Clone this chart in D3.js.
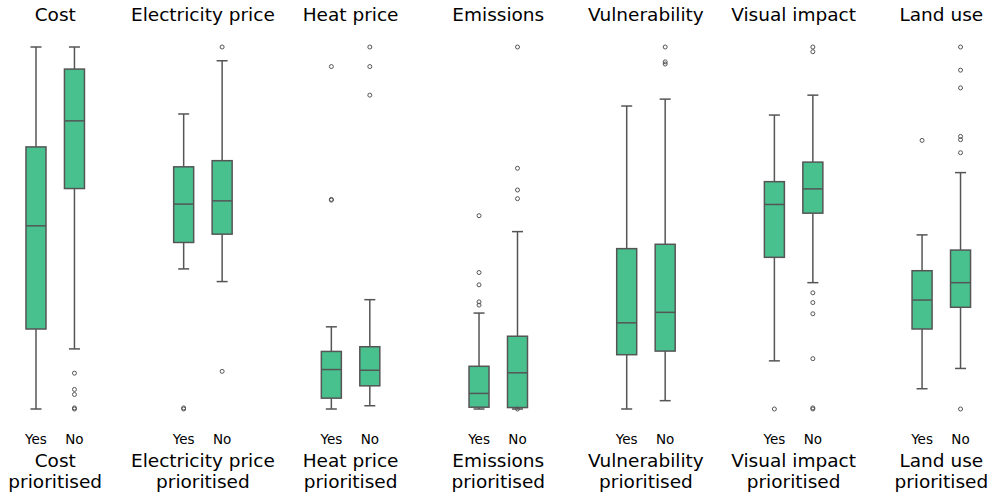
<!DOCTYPE html>
<html>
 <head>
   <meta charset="utf-8" />
   <title>Prioritised factors</title>
   <script src="https://cdn.jsdelivr.net/npm/d3@7"></script>
   <style>
     body { margin: 0; background: #fff; }
     text { font-family: "DejaVu Sans", sans-serif; fill: #000; }
   </style>
 </head>

 <body>
   <script>
     var width = 992, height = 497;

     // panels and groups
     var factors = ["Cost", "Electricity price", "Heat price", "Emissions",
                    "Vulnerability", "Visual impact", "Land use"];
     var groups = ["Yes", "No"];

     // box statistics per factor, [Yes, No], score 0..100
     var whiskerLow = [[0, 16.6], [38.7, 35.2], [0, 0.9], [0, 0], [0, 2.3], [13.3, 34.9], [5.6, 11.2]];
     var q1 =         [[22.1, 60.9], [46.0, 48.3], [3.0, 6.4], [0.5, 0.4], [15.0, 16.0], [41.9, 54.1], [22.1, 28.1]];
     var median =     [[50.6, 79.6], [56.6, 57.5], [10.9, 10.7], [4.3, 10.0], [23.8, 26.7], [56.5, 60.8], [30.1, 34.9]];
     var q3 =         [[72.4, 93.9], [66.9, 68.6], [15.9, 17.2], [11.8, 20.1], [44.3, 45.5], [62.8, 68.2], [38.2, 43.9]];
     var whiskerHigh = [[100, 100], [81.5, 96.2], [22.7, 30.2], [26.5, 49.0], [83.7, 85.6], [81.2, 86.7], [48.1, 65.3]];
     var outliers = [
       [[], [9.9, 5.4, 4.0, 0.3, 0]],
       [[0.3, 0], [100, 10.4]],
       [[94.6, 57.7, 57.9], [100, 94.6, 86.7]],
       [[53.4, 37.7, 34.3, 29.6, 28.7], [100, 66.5, 60.5, 58.1, 0]],
       [[], [100, 95.9, 95.3]],
       [[0], [100, 98.7, 32.1, 29.4, 26.3, 13.9, 0.3, 0]],
       [[74.2], [100, 93.6, 88.7, 75.3, 74.4, 70.8, 0]]
     ];

     var boxFill = "#48c18f", lineColor = "#555555";

     var svg = d3.select("body")
                 .append("svg")
                 .attr("width",  width)
                 .attr("height", height);

     var y = d3.scaleLinear().domain([0, 100]).range([409, 47]);

     var panel = d3.scaleBand()
                   .domain(factors)
                   .range([16.75, 16.75 + 6 * 147.67 + 77])
                   .paddingInner(0.479)
                   .paddingOuter(0);

     factors.forEach(function(f, i) {
       var x = d3.scaleBand()
                 .domain(groups)
                 .range([panel(f), panel(f) + panel.bandwidth()]);
       var bw = x.bandwidth() * 0.52;
       var capW = bw * 0.55;
       var g = svg.append("g");

       groups.forEach(function(grp, j) {
         var cx = x(grp) + x.bandwidth() / 2;

         // whiskers
         g.append("line")
           .attr("x1", cx).attr("x2", cx)
           .attr("y1", y(whiskerLow[i][j])).attr("y2", y(q1[i][j]))
           .attr("stroke", lineColor).attr("stroke-width", 1.5);
         g.append("line")
           .attr("x1", cx).attr("x2", cx)
           .attr("y1", y(q3[i][j])).attr("y2", y(whiskerHigh[i][j]))
           .attr("stroke", lineColor).attr("stroke-width", 1.5);
         [whiskerLow[i][j], whiskerHigh[i][j]].forEach(function(v) {
           g.append("line")
             .attr("x1", cx - capW / 2).attr("x2", cx + capW / 2)
             .attr("y1", y(v)).attr("y2", y(v))
             .attr("stroke", lineColor).attr("stroke-width", 1.5);
         });

         // box
         g.append("rect")
           .attr("x", cx - bw / 2)
           .attr("y", y(q3[i][j]))
           .attr("width", bw)
           .attr("height", y(q1[i][j]) - y(q3[i][j]))
           .attr("fill", boxFill)
           .attr("stroke", lineColor)
           .attr("stroke-width", 1.5);

         g.append("line")
           .attr("x1", cx - bw / 2).attr("x2", cx + bw / 2)
           .attr("y1", y(median[i][j])).attr("y2", y(median[i][j]))
           .attr("stroke", lineColor).attr("stroke-width", 1.5);

         g.selectAll(null)
           .data(outliers[i][j])
           .enter().append("circle")
           .attr("cx", cx)
           .attr("cy", function(d) { return y(d); })
           .attr("r", 2)
           .attr("fill", "none")
           .attr("stroke", lineColor)
           .attr("stroke-width", 1);

         // tick label
         g.append("text")
           .attr("x", cx).attr("y", 444)
           .attr("text-anchor", "middle")
           .style("font-size", "13.5px")
           .text(grp);
       });

       var mid = panel(f) + panel.bandwidth() / 2;

       g.append("text")
         .attr("x", mid).attr("y", 21)
         .attr("text-anchor", "middle")
         .style("font-size", "18.5px")
         .text(f);

       var xt = g.append("text")
         .attr("text-anchor", "middle")
         .style("font-size", "18.5px");
       xt.append("tspan").attr("x", mid).attr("y", 467).text(f);
       xt.append("tspan").attr("x", mid).attr("y", 488).text("prioritised");
     });
  </script>
 </body>
</html>
